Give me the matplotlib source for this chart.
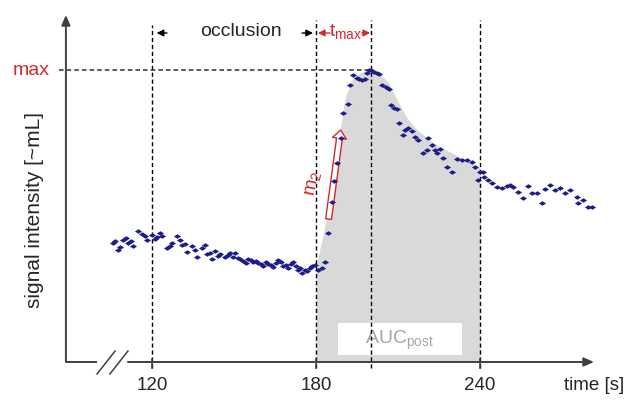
import matplotlib
matplotlib.use('Agg')
import matplotlib.pyplot as plt
from matplotlib.patches import FancyArrowPatch, Rectangle

plt.rcParams['font.family'] = ['Liberation Sans', 'DejaVu Sans']
plt.rcParams['mathtext.fontset'] = 'custom'
plt.rcParams['mathtext.rm'] = 'Liberation Sans'

# %% data (time in s, signal in arbitrary units)
time_s = [105.7, 106.5, 107.6, 108.3, 109.4, 110.5, 111.2, 112.3, 113.0, 114.9,
          116.3, 117.4, 118.2, 120.0, 121.1, 121.8, 122.9, 123.7, 125.5, 126.6,
          127.3, 129.1, 130.2, 131.0, 132.0, 132.8, 134.6, 135.7, 136.5, 138.3,
          139.4, 140.1, 141.2, 142.0, 143.1, 144.2, 144.9, 146.7, 147.8, 148.5,
          149.6, 150.4, 151.5, 152.2, 153.3, 154.4, 155.1, 156.2, 157.0, 158.1,
          158.8, 159.9, 160.6, 161.7, 162.4, 163.5, 164.3, 165.4, 166.1, 167.2,
          167.9, 169.0, 169.8, 170.9, 171.6, 172.7, 173.4, 174.2, 174.9, 176.0,
          176.7, 177.8, 178.5, 179.6, 180.7, 182.2, 183.3,
          184.4, 185.9, 186.6, 187.7, 189.2, 189.9, 191.7, 192.5, 193.6, 195.0,
          195.8, 196.9, 198.0, 198.7, 199.4, 200.2, 201.2, 202.3, 203.1, 204.2,
          205.6, 206.7, 207.5, 208.6, 209.7, 210.4, 211.9, 212.6, 213.7, 215.2,
          216.3, 217.4, 219.2, 220.6, 221.0, 222.5, 223.6, 224.3, 225.4, 226.5,
          228.0, 229.8, 231.6, 233.4, 235.3, 237.1, 238.2, 239.3, 240.0, 241.1,
          241.5, 243.0, 244.4, 246.2, 248.1, 249.9, 251.0, 252.1, 253.9, 255.8,
          257.6, 259.1, 260.9, 262.7, 263.8, 265.6, 267.5, 269.3, 271.1, 273.0,
          275.5, 275.9, 277.7, 279.6, 281.0]
signal = [11.9, 12.1, 11.2, 11.5, 12.2, 12.4, 11.9, 12.1, 11.6, 13.1,
          12.8, 12.6, 12.2, 12.7, 12.3, 12.5, 12.9, 12.6, 11.4, 11.6,
          11.9, 12.6, 12.2, 11.7, 11.8, 11.0, 11.6, 11.2, 10.5, 11.4,
          11.7, 10.8, 10.9, 10.3, 11.1, 10.6, 10.8, 10.5, 10.7, 10.9,
          10.5, 10.9, 10.4, 10.3, 10.1, 9.9, 10.3, 10.2, 10.0, 10.1,
          9.9, 9.8, 9.6, 10.0, 9.8, 9.7, 9.5, 9.9, 10.2, 10.0,
          9.6, 9.7, 9.4, 9.8, 10.0, 9.6, 9.2, 9.4, 8.9, 9.2,
          9.1, 9.4, 9.6, 9.7, 9.2, 9.4, 10.0,
          12.9, 16.0, 18.1, 19.9, 22.4, 24.9, 25.8, 27.7, 28.7, 28.4,
          28.3, 28.2, 28.3, 28.9, 29.2, 29.2, 29.0, 28.9, 28.8, 27.7,
          27.5, 27.3, 25.7, 25.4, 25.3, 23.9, 22.7, 23.2, 23.4, 23.1,
          22.5, 22.2, 20.9, 21.2, 22.4, 21.7, 21.2, 20.9, 21.3, 20.4,
          19.5, 19.0, 20.3, 20.2, 20.2, 20.0, 19.5, 18.2, 19.0, 19.0,
          18.5, 18.2, 17.9, 17.5, 17.4, 17.6, 17.7, 17.5, 17.0, 16.4,
          17.6, 16.9, 16.9, 15.9, 17.3, 17.7, 17.2, 17.4, 16.9, 17.2,
          16.5, 15.9, 16.2, 15.5, 15.5]

# enveloppe de l'aire AUC_post (180 s -> 240 s)
env_t = [180.0, 180.7, 182.6, 185.1, 187.3, 188.8, 190.6, 193.2, 196.1, 199.4,
         202.7, 206.4, 209.7, 213.3, 217.0, 221.7, 225.4, 232.7, 240.0]
env_v = [9.4, 10.4, 12.7, 16.7, 20.2, 23.2, 26.4, 28.2, 28.9, 29.3,
         29.0, 28.0, 26.2, 24.4, 23.2, 22.2, 21.5, 20.5, 19.4]

ticks = [120, 180, 240]
t_peak = 200
v_max = 29.2

red = '#d42a2a'
axis_col = '#404040'
txt_col = '#262626'
dash = (0, (3, 2))

# %% figure
fig = plt.figure(figsize=(6.26, 4.01), dpi=100)
ax = fig.add_axes([0, 0, 1, 1])
ax.set_xlim(64.39, 293.41)
ax.set_ylim(-3.9, 36.2)
ax.axis('off')

# aire grisée
ax.fill_between(env_t, 0, env_v, color='#d9d9d9', lw=0, zorder=1)
ax.add_patch(Rectangle((188.0, 0.7), 45.4, 3.2, facecolor='white', edgecolor='none', zorder=2))
ax.text(210.7, 2.2, r'AUC$_\mathregular{post}$', color='#a6a6a6', fontsize=14,
        ha='center', va='center', zorder=3)

# lignes pointillées verticales
ax.plot([120, 120], [-0.6, 33.7], color='k', lw=1, linestyle=dash, zorder=3)
for xv in [180, 200, 240]:
    ax.plot([xv, xv], [-0.6, 34.2], color='k', lw=1, linestyle=dash, zorder=3)
# ligne max
ax.plot([86.0, t_peak], [v_max, v_max], color='#303030', lw=1.1, linestyle=dash, zorder=3)
ax.text(82.7, v_max, 'max', color=red, fontsize=14, ha='right', va='center')

# axes
ax.plot([88.5, 99.9], [0, 0], color=axis_col, lw=1.4, solid_capstyle='butt', zorder=4)
ax.annotate('', xy=(281.7, 0), xytext=(111.2, 0),
            arrowprops=dict(arrowstyle='-|>,head_length=0.5,head_width=0.22', color=axis_col,
                            lw=1.4, shrinkA=0, shrinkB=0, mutation_scale=12), zorder=4)
ax.annotate('', xy=(88.5, 34.7), xytext=(88.5, 0),
            arrowprops=dict(arrowstyle='-|>,head_length=0.5,head_width=0.22', color=axis_col,
                            lw=1.4, shrinkA=0, shrinkB=0, mutation_scale=12), zorder=4)
# coupure de l'axe
ax.plot([99.9, 106.5], [-1.2, 1.1], color=axis_col, lw=1.1)
ax.plot([104.6, 111.2], [-1.2, 1.1], color=axis_col, lw=1.1)

for tk in ticks:
    ax.plot([tk, tk], [0.3, -0.6], color=axis_col, lw=1.2, zorder=4)
    ax.text(tk, -2.3, str(tk), fontsize=13.5, ha='center', va='center', color=txt_col)
ax.text(292.8, -2.3, 'time [s]', fontsize=13.5, ha='right', va='center', color=txt_col)
ax.text(77.0, 15.2, 'signal intensity [~mL]', fontsize=15, rotation=90,
        ha='center', va='center', color=txt_col)

# occlusion
ax.text(152.6, 33.1, 'occlusion', fontsize=14, ha='center', va='center', color=txt_col)
arr_k = dict(arrowstyle='-|>,head_length=0.5,head_width=0.25', color='k', lw=1,
             shrinkA=0, shrinkB=0, mutation_scale=8)
ax.annotate('', xy=(121.7, 32.9), xytext=(125.5, 32.9), arrowprops=arr_k)
ax.annotate('', xy=(178.9, 32.9), xytext=(174.9, 32.9), arrowprops=arr_k)

# t_max
arr_r = dict(arr_k, color=red)
ax.annotate('', xy=(180.7, 32.9), xytext=(185.1, 32.9), arrowprops=arr_r)
ax.annotate('', xy=(199.8, 32.9), xytext=(196.8, 32.9), arrowprops=arr_r)
ax.text(190.9, 33.0, r't$_\mathregular{max}$', color=red, fontsize=14, ha='center', va='center')

# pente m2
ax.add_patch(FancyArrowPatch((184.6, 14.3), (189.0, 23.2),
                             arrowstyle='simple,head_length=0.6,head_width=1.0,tail_width=0.42',
                             mutation_scale=10, facecolor='white', edgecolor=red, lw=1,
                             shrinkA=0, shrinkB=0, zorder=4))
ax.text(179.4, 17.8, r'm$_\mathregular{2}$', color=red, fontsize=14, rotation=78,
        ha='center', va='center')

# points de mesure
ax.scatter(time_s, signal, s=26, marker=[(-1, 0), (0, 0.65), (1, 0), (0, -0.65)],
           color='#1c1c8a', linewidths=0, zorder=5)

fig.savefig('out.png', dpi=100)
